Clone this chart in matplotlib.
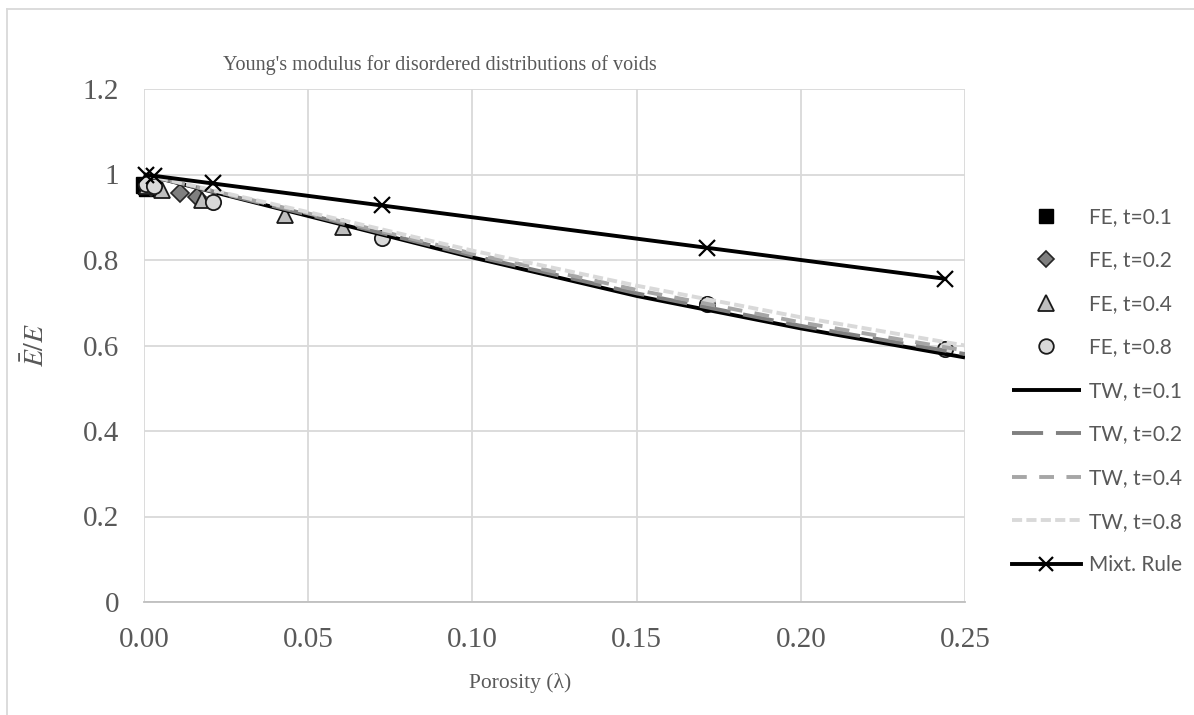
import matplotlib
matplotlib.use("Agg")
import matplotlib.pyplot as plt
from matplotlib.lines import Line2D

# ---- data ----
fe01_x = [0.0, 0.0005, 0.001]
fe01_y = [0.975, 0.972, 0.969]
fe02_x = [0.002, 0.011, 0.016]
fe02_y = [0.970, 0.957, 0.948]
fe04_x = [0.001, 0.0055, 0.0177, 0.043, 0.0606]
fe04_y = [0.972, 0.964, 0.940, 0.905, 0.877]
fe08_x = [0.0005, 0.003, 0.021, 0.0725, 0.1715, 0.244]
fe08_y = [0.978, 0.974, 0.936, 0.851, 0.697, 0.592]

tw_x = [0.0, 0.05, 0.10, 0.15, 0.20, 0.25]
tw01_y = [1.0, 0.903, 0.806, 0.716, 0.640, 0.572]
tw02_y = [1.0, 0.906, 0.810, 0.722, 0.646, 0.580]
tw04_y = [1.0, 0.909, 0.815, 0.730, 0.654, 0.588]
tw08_y = [1.0, 0.912, 0.822, 0.740, 0.666, 0.600]

mix_x = [0.0005, 0.003, 0.021, 0.0725, 0.1715, 0.244]
mix_y = [0.9995, 0.997, 0.979, 0.9275, 0.8285, 0.756]

x_ticks = [0.00, 0.05, 0.10, 0.15, 0.20, 0.25]
y_ticks = [0, 0.2, 0.4, 0.6, 0.8, 1.0, 1.2]
y_tick_labels = ["0", "0.2", "0.4", "0.6", "0.8", "1", "1.2"]

title = "Young's modulus for disordered distributions of voids"
xlabel = "Porosity (\u03bb)"
ylabel = r"$\bar{E}/E$"

# ---- plot ----
W, H = 1194, 715
fig = plt.figure(figsize=(W / 100, H / 100), dpi=100)
L, R, T, B = 144, 965, 89, 602
ax = fig.add_axes([L / W, 1 - B / H, (R - L) / W, (B - T) / H])

txt = "#595959"
serif = "Liberation Serif"
sans = "Lato"

ax.plot(fe01_x, fe01_y, ls="none", marker="s", ms=12, mfc="black", mec="black",
        label="FE, t=0.1", zorder=3, clip_on=False)
ax.plot(fe02_x, fe02_y, ls="none", marker="D", ms=9.5, mfc="#7f7f7f", mec="#262626",
        mew=1.2, label="FE, t=0.2", zorder=3, clip_on=False)
ax.plot(fe04_x, fe04_y, ls="none", marker="^", ms=12, mfc="#bfbfbf", mec="#1a1a1a",
        mew=1.3, label="FE, t=0.4", zorder=3, clip_on=False)
ax.plot(fe08_x, fe08_y, ls="none", marker="o", ms=11, mfc="#d9d9d9", mec="#1a1a1a",
        mew=1.3, label="FE, t=0.8", zorder=3, clip_on=False)

lw = 2.8
ax.plot(tw_x, tw01_y, color="black", lw=lw, label="TW, t=0.1", zorder=4,
        solid_capstyle="butt")
ax.plot(tw_x, tw02_y, color="#808080", lw=lw, dashes=(8, 3.3), label="TW, t=0.2",
        zorder=4, dash_capstyle="butt")
ax.plot(tw_x, tw04_y, color="#a6a6a6", lw=lw, dashes=(3.8, 3.2), label="TW, t=0.4",
        zorder=4, dash_capstyle="butt")
ax.plot(tw_x, tw08_y, color="#d9d9d9", lw=lw, dashes=(2.6, 1.1), label="TW, t=0.8",
        zorder=4, dash_capstyle="butt")
ax.plot(mix_x, mix_y, color="black", lw=lw, marker="x", ms=11, mew=1.6,
        label="Mixt. Rule", zorder=5, clip_on=False)

ax.set_xlim(0, 0.25)
ax.set_ylim(0, 1.2)
ax.set_xticks(x_ticks)
ax.set_xticklabels([f"{v:.2f}" for v in x_ticks])
ax.set_yticks(y_ticks)
ax.set_yticklabels(y_tick_labels)
ax.grid(True, color="#d9d9d9", lw=1.3, zorder=0)
ax.set_axisbelow(True)
for s in ["top", "right", "left"]:
    ax.spines[s].set_visible(False)
ax.spines["bottom"].set_color("#bfbfbf")
ax.spines["bottom"].set_linewidth(1.3)
ax.tick_params(length=0, labelsize=21, labelcolor=txt)
ax.tick_params(axis="x", pad=18)
ax.tick_params(axis="y", pad=18)
for lab in ax.get_xticklabels() + ax.get_yticklabels():
    lab.set_fontfamily(serif)

fig.text(440 / W, 1 - 65 / H, title, ha="center", va="center", fontsize=14.5,
         color=txt, family=serif)
fig.text(520 / W, 1 - 683 / H, xlabel, ha="center", va="center", fontsize=15.5,
         color=txt, family=serif)
fig.text(36 / W, 1 - 345 / H, ylabel, ha="center", va="center", fontsize=20,
         color=txt, rotation=90, math_fontfamily="stix")

leg = fig.legend(loc="center left", bbox_to_anchor=(1012 / W, 1 - 391 / H),
                 frameon=False, prop={"family": sans, "size": 15},
                 handlelength=3.3, handletextpad=0.38, labelspacing=1.13,
                 borderaxespad=0, borderpad=0)
for t in leg.get_texts():
    t.set_color(txt)
legend_marker_sizes = [10, 8, 11, 10.5]
for h, s in zip(leg.legend_handles[:4], legend_marker_sizes):
    h.set_markersize(s)
leg.legend_handles[8].set_markersize(10)

# outer chart border (light gray)
fig.add_artist(Line2D([7 / W, 7 / W], [0, 1 - 9 / H], color="#d9d9d9", lw=1.3,
                      transform=fig.transFigure))
fig.add_artist(Line2D([7 / W, 1], [1 - 9 / H, 1 - 9 / H], color="#d9d9d9", lw=1.3,
                      transform=fig.transFigure))

fig.savefig("out.png", dpi=100)
